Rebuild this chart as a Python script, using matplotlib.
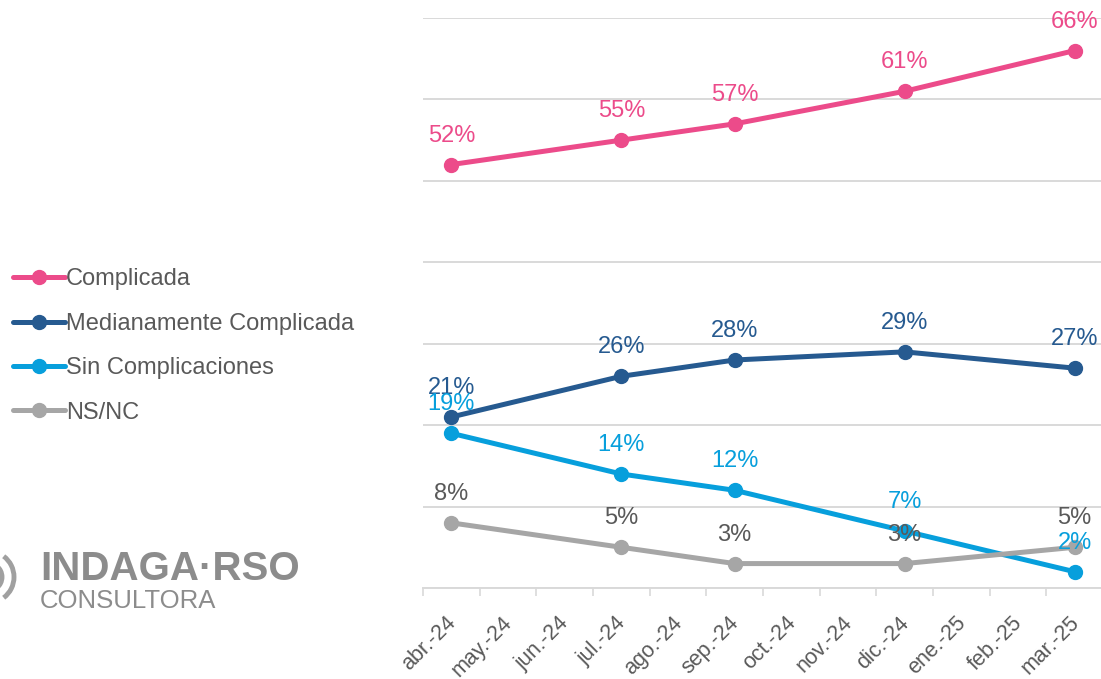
import matplotlib
matplotlib.use('Agg')
from matplotlib import pyplot as plt
from matplotlib.patches import Arc

# categorias del eje x
months = ['abr.-24', 'may.-24', 'jun.-24', 'jul.-24', 'ago.-24', 'sep.-24',
          'oct.-24', 'nov.-24', 'dic.-24', 'ene.-25', 'feb.-25', 'mar.-25']
# meses con medicion
survey_months = ['abr.-24', 'jul.-24', 'sep.-24', 'dic.-24', 'mar.-25']
complicada = [52, 55, 57, 61, 66]
mediana = [21, 26, 28, 29, 27]
sin_compl = [19, 14, 12, 7, 2]
nsnc = [8, 5, 3, 3, 5]

W, H = 1101, 679
fig = plt.figure(figsize=(W / 100, H / 100), dpi=100)
plt.rcParams['font.family'] = ['Liberation Sans', 'DejaVu Sans']

# area del grafico (pixeles -> fraccion)
left, right, top, bottom = 423, 1103, 18, 588
ax = fig.add_axes([left / W, (H - bottom) / H, (right - left) / W, (bottom - top) / H])

xs = [months.index(m) for m in survey_months]
series = [
    ('Complicada', complicada, '#EC4B8A', '#EC4B8A'),
    ('Medianamente Complicada', mediana, '#265A90', '#265A90'),
    ('Sin Complicaciones', sin_compl, '#079FDC', '#079FDC'),
    ('NS/NC', nsnc, '#A6A6A6', '#595959'),
]

for name, vals, col, lab_col in series:
    ax.plot(xs, vals, color=col, lw=3.6, marker='o', markersize=10,
            solid_capstyle='round', label=name, zorder=3)
    for x, v in zip(xs, vals):
        ax.annotate('%d%%' % v, (x, v), xytext=(0, 13), textcoords='offset points',
                    ha='center', va='bottom', color=lab_col, fontsize=17, zorder=4)

ax.set_xlim(-0.5, len(months) - 0.5)
ax.set_ylim(0, 70)
ax.set_yticks(range(0, 71, 10))
ax.yaxis.grid(True, color='#D9D9D9', lw=1.4)
ax.set_axisbelow(True)
ax.tick_params(axis='y', left=False, labelleft=False)

# ticks entre categorias
ax.set_xticks([i - 0.5 for i in range(len(months))])
ax.set_xticklabels([])
ax.tick_params(axis='x', direction='out', length=6, width=1.2, color='#D9D9D9')
for i, m in enumerate(months):
    ax.annotate(m, (i, 0), xytext=(1, -23), textcoords='offset points',
                rotation=45, rotation_mode='anchor', ha='right', va='center',
                color='#595959', fontsize=15.5, annotation_clip=False)

for s in ['top', 'right', 'left']:
    ax.spines[s].set_visible(False)
ax.spines['bottom'].set_color('#D9D9D9')
ax.spines['bottom'].set_linewidth(1.4)

# leyenda a la izquierda
handles, labels = ax.get_legend_handles_labels()
fig.legend(handles, labels, loc='center left', bbox_to_anchor=(0.0, (H - 346) / H),
           frameon=False, fontsize=17, labelcolor='#595959', handlelength=2.2,
           handletextpad=0.05, labelspacing=0.95, borderaxespad=0.15)

# logo
fig.text(40 / W, (H - 569) / H, 'INDAGA\u00b7RSO', fontsize=29, fontweight='bold',
         color='#8C8C8C', va='center', ha='left')
fig.text(40 / W, (H - 601) / H, 'CONSULTORA', fontsize=18.5, color='#8C8C8C',
         va='center', ha='left')
for r in [14, 26]:
    arc = Arc((-12 / W, (H - 577) / H), 2 * r / W, 2 * r / H, theta1=-65, theta2=65,
              transform=fig.transFigure, color='#A0A0A0', lw=3.5)
    fig.add_artist(arc)

plt.savefig('out.png', dpi=100)
